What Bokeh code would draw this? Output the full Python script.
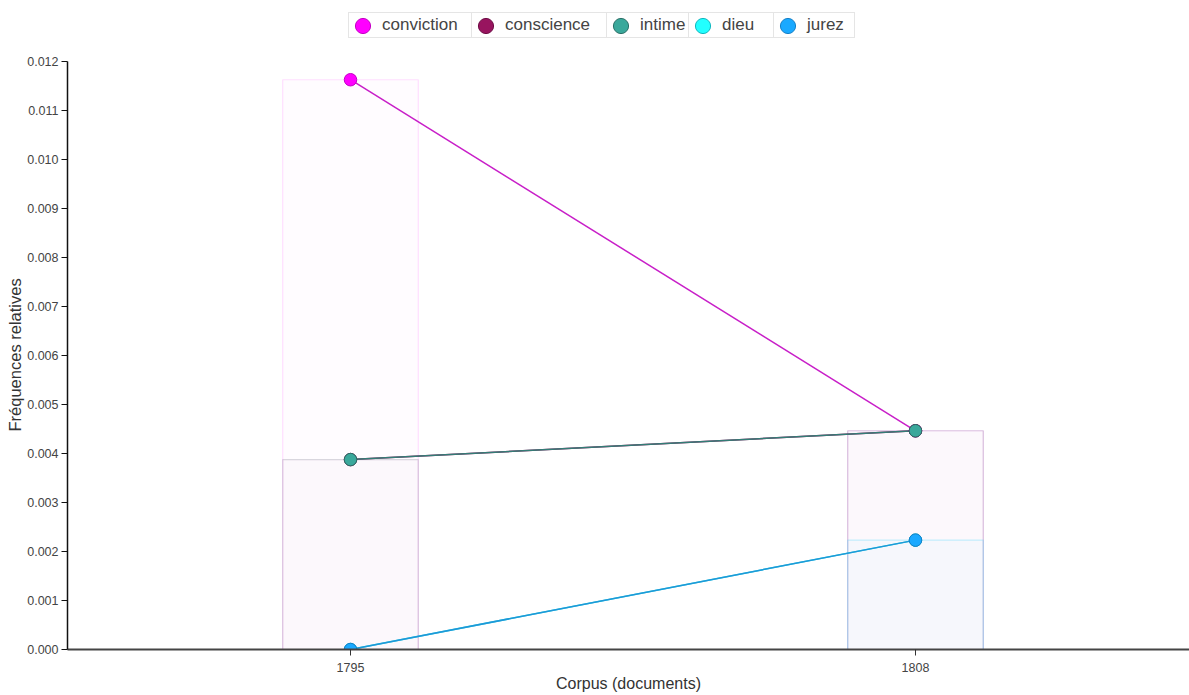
from bokeh.plotting import figure
from bokeh.models import (Range1d, FixedTicker, Legend, LegendItem, NumeralTickFormatter, Title)
from bokeh.embed import file_html
from bokeh.resources import INLINE

# ---- data ----
categories = ["1795", "1808"]
terms = ["conviction", "conscience", "intime", "dieu", "jurez"]
conviction = [0.011628, 0.004464]
conscience = [0.003876, 0.004464]
intime = [0.003876, 0.004464]
dieu = [0.0, 0.002232]
jurez = [0.0, 0.002232]
series = [conviction, conscience, intime, dieu, jurez]
y_ticks = [i / 1000 for i in range(13)]

fill_colors = ["#ff00ff", "#98145f", "#3aa89b", "#22ffff", "#1aa9ff"]
line_colors = ["#c81fc8", "#98145f", "#347c76", "#22d8e0", "#1f97d8"]
edge_colors = ["#c400c4", "#6e0d45", "#2b7068", "#10b8c0", "#1480c8"]

FONT = "Liberation Sans"
xs = list(range(len(categories)))

p = figure(width=1189, height=695, output_backend="svg", toolbar_location=None,
           x_range=Range1d(-0.5009, 1.485), y_range=Range1d(0, 0.013245),
           min_border_left=67, min_border_right=0, min_border_top=0, min_border_bottom=46)
p.outline_line_color = None
p.grid.visible = False
p.background_fill_color = "white"

# bars
for vals, c in zip(series, fill_colors):
    p.vbar(x=xs, top=vals, bottom=0, width=0.24, fill_color=c, fill_alpha=0.012,
           line_color=c, line_alpha=0.13, line_width=1.2)

# lines
for vals, c in zip(series, line_colors):
    p.line(xs, vals, line_color=c, line_width=1.5)

# points
point_renderers = []
for vals, c, e in zip(series, fill_colors, edge_colors):
    r = p.ellipse(xs, vals, width=12.5, height=12.5, width_units="screen",
                  height_units="screen", fill_color=c, line_color=e, line_width=1)
    point_renderers.append(r)

# axes
xa = p.xaxis[0]
xa.ticker = FixedTicker(ticks=xs)
xa.major_label_overrides = {i: c for i, c in zip(xs, categories)}
xa.axis_label = "Corpus (documents)"
ya = p.yaxis[0]
ya.ticker = FixedTicker(ticks=y_ticks)
ya.formatter = NumeralTickFormatter(format="0.000")
ya.bounds = (0, 0.012)
for ax in (xa, ya):
    ax.major_tick_in = 0
    ax.major_tick_out = 6
    ax.minor_tick_line_color = None
    ax.major_label_text_font = FONT
    ax.major_label_text_font_size = "12.5px"
    ax.major_label_text_color = "#444444"
    ax.axis_label_text_font = FONT
    ax.axis_label_text_font_size = "16px"
    ax.axis_label_text_font_style = "normal"
    ax.axis_label_text_color = "#333333"
xa.major_label_standoff = 7
xa.axis_label_standoff = 0
xa.axis_line_color = "#444444"
xa.axis_line_width = 2
xa.major_tick_line_color = "#333333"
ya.axis_line_color = "#111111"
ya.axis_line_width = 1.5
ya.major_tick_line_color = "#111111"
ya.major_label_standoff = 3

# y-axis title, centred on the axis line (0 .. 0.012) rather than the whole frame
ytitle = Title(text="Fréquences relatives", align="left", offset=218,
               text_font=FONT, text_font_size="16.5px", text_font_style="normal",
               text_color="#333333", standoff=2)
p.add_layout(ytitle, "left")

# legend: one box per term, side by side above the plot area
lefts = [348, 471, 606, 688, 773]
label_widths = [86, 98, 45, 48, 43]
for term, r, lx, lw in zip(terms, point_renderers, lefts, label_widths):
    lg = Legend(items=[LegendItem(label=term, renderers=[r])],
                location=(lx - 67, 611), orientation="horizontal",
                glyph_width=19, glyph_height=19,
                padding=dict(left=4, right=4, top=2, bottom=2), label_standoff=10,
                label_width=lw, label_height=17, spacing=0, margin=0,
                label_text_font=FONT, label_text_font_size="17px",
                label_text_color="#444444",
                border_line_color="#cccccc", border_line_width=1,
                background_fill_color="white", background_fill_alpha=1.0)
    p.add_layout(lg, "center")

open("out.html", "w").write(file_html(p, INLINE))
